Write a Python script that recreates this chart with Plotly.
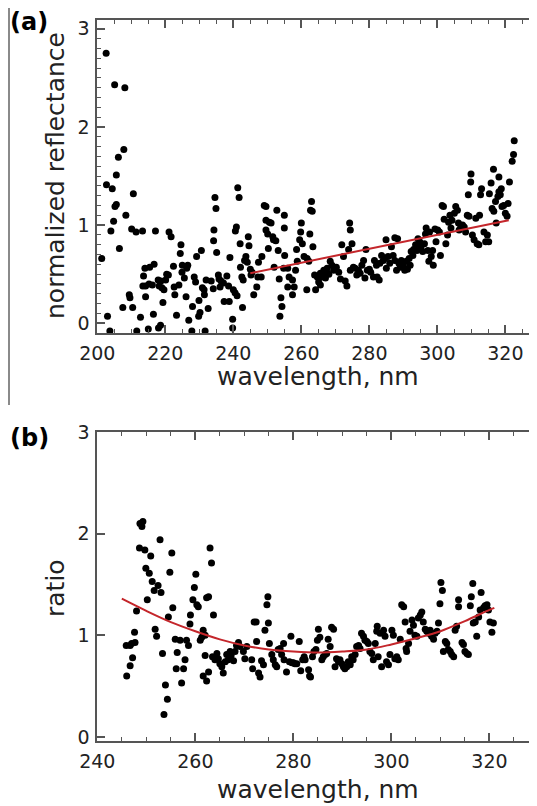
import plotly.graph_objects as go

# ---------------- Panel (a): normalized reflectance vs wavelength ----------------
a_wavelength = [
    202.6, 205.1, 208.1, 206.2, 207.8, 205.6,
    202.7, 204.4, 205.6, 205.2, 204.8, 204.0, 208.4, 210.6, 210.1, 211.4,
    213.3, 217.1, 221.1, 221.7, 206.5, 201.3, 203.0, 207.5, 209.4, 209.6,
    210.4, 212.7, 213.6, 214.0, 215.4, 216.7, 213.4, 214.2, 215.2, 216.2,
    214.2, 216.5, 217.9, 218.2, 218.7, 219.0, 219.3, 219.6, 220.1, 220.4,
    220.9, 222.4, 222.6, 222.8, 223.3, 224.0, 224.4, 224.6, 225.0, 224.9,
    225.6, 226.1, 226.3, 226.6, 226.9, 228.0, 228.5, 228.9, 229.2, 229.8,
    230.2, 229.9, 230.6, 230.9, 231.4, 231.5, 232.0, 232.6, 233.5, 234.1,
    234.6, 234.9, 234.2, 234.3, 235.1, 235.6, 235.8, 236.1, 236.4, 237.1,
    237.3, 238.8, 238.6, 238.1, 239.0, 240.0, 240.5, 240.6, 240.9, 241.1,
    241.3, 241.7, 242.0, 242.1, 242.5, 242.7, 242.9, 243.3, 243.7, 244.1,
    244.4, 244.6, 245.0, 245.2, 245.5, 246.0, 246.9, 247.2, 247.4,
    203.7, 211.6, 215.0, 218.0, 218.6, 227.8, 231.7, 239.8, 239.8,
    249.1, 249.6, 249.6, 250.6, 251.1, 249.6, 250.1, 251.6, 251.8, 252.5,
    252.8, 250.3, 252.0, 248.4, 248.2, 253.2, 253.5, 254.0, 254.3, 253.7,
    255.0, 255.0, 255.1, 254.8, 256.0, 256.4, 256.0, 257.4, 257.4, 257.9,
    258.3, 258.8, 258.6, 259.5, 259.8, 260.0, 260.3, 260.8, 261.6, 261.7,
    262.2, 262.5, 262.7, 263.0, 263.2, 263.4, 263.9, 264.2, 264.7, 265.1,
    265.6, 265.6, 266.1, 266.6, 267.1, 267.1, 267.6, 268.1, 268.5, 269.0,
    269.5, 270.3, 271.0, 271.5, 271.9, 272.4, 272.9, 273.4, 273.9, 274.2,
    274.4, 274.9, 274.4, 275.3, 275.8, 276.3, 276.8, 277.3, 277.8, 278.3,
    278.7, 279.0, 279.4, 280.0, 280.4, 281.2, 281.5, 282.1, 282.3, 282.9,
    283.1, 283.6, 284.1, 284.6, 284.9, 285.0, 285.5, 286.0, 286.5, 287.0,
    287.5, 287.5, 288.0, 288.3, 288.7, 289.1, 289.4, 290.0, 290.4, 290.9,
    291.2, 291.7, 292.0, 292.3, 292.8, 293.0, 293.6, 294.0, 294.3, 294.8,
    295.2, 295.7, 296.2, 296.5, 296.7, 297.2, 297.5, 297.7, 298.2, 298.6,
    298.8, 299.3, 299.6, 300.1, 300.6, 300.9, 301.4, 301.8, 302.0, 302.5,
    303.0, 303.3, 303.7, 304.0, 304.3, 305.0, 305.4, 305.9, 306.2, 306.4,
    306.9, 307.4, 307.9, 308.3, 308.8, 309.1, 309.3, 309.8, 310.3, 310.8,
    311.3, 311.7, 312.2, 312.4, 312.7, 313.0, 313.7, 314.2, 314.7, 315.1,
    315.3, 315.8, 316.1, 316.6, 317.1, 317.3, 317.8, 318.1, 318.5, 318.8,
    319.0, 319.5, 320.0, 320.5, 320.8, 321.2,
    322.6, 322.4, 322.0, 316.5, 309.9, 318.1,
]
a_reflectance = [
    2.75, 2.43, 2.40, 1.69, 1.77, 1.51,
    1.41, 1.37, 1.21, 1.19, 1.04, 0.94, 1.10, 1.32, 0.96, 0.93,
    0.94, 0.94, 0.93, 0.88, 0.76, 0.66, 0.07, 0.16, 0.29, 0.26,
    0.16, 0.06, 0.48, 0.56, 0.57, 0.60, 0.38, 0.38, 0.40, 0.39,
    0.27, 0.09, 0.44, 0.38, 0.43, 0.36, 0.21, 0.34, 0.44, 0.50,
    0.49, 0.58, 0.37, 0.29, 0.08, 0.39, 0.71, 0.80, 0.59, 0.52,
    0.46, 0.27, 0.56, 0.59, 0.03, 0.17, 0.47, 0.42, 0.68, 0.07,
    0.11, 0.23, 0.74, 0.36, 0.34, 0.29, 0.44, 0.15, 0.43, 0.35,
    1.28, 1.17, 0.84, 0.95, 0.72, 0.49, 0.45, 0.37, 0.43, 0.41,
    0.22, 0.22, 0.38, 0.48, 0.67, 0.34, 0.31, 0.94, 0.98, 0.28,
    1.38, 1.28, 0.81, 0.57, 0.47, 0.16, 0.44, 0.64, 0.68, 0.62,
    0.88, 0.79, 0.55, 0.49, 0.52, 0.29, 0.37, 0.47, 0.62,
    -0.08, -0.08, -0.06, -0.05, -0.02, -0.08, -0.08, -0.05, 0.04,
    1.20, 1.19, 1.05, 1.03, 1.02, 0.95, 0.91, 0.88, 0.85, 0.84,
    1.15, 0.76, 0.57, 0.68, 0.47, 0.74, 0.45, 0.26, 0.17, 0.07,
    1.10, 0.97, 0.69, 0.56, 0.56, 0.47, 0.37, 0.44, 0.29, 0.37,
    0.54, 0.63, 0.75, 0.85, 0.93, 1.02, 0.81, 0.68, 0.34, 0.66,
    0.63, 0.91, 1.15, 1.24, 1.14, 0.78, 0.49, 0.34, 0.47, 0.42,
    0.51, 0.39, 0.47, 0.54, 0.52, 0.46, 0.56, 0.50, 0.63, 0.59,
    0.54, 0.57, 0.52, 0.45, 0.80, 0.68, 0.43, 0.38, 0.75, 1.02,
    0.95, 0.81, 0.54, 0.57, 0.56, 0.49, 0.54, 0.51, 0.59, 0.64,
    0.46, 0.75, 0.54, 0.55, 0.52, 0.47, 0.64, 0.59, 0.47, 0.44,
    0.61, 0.69, 0.64, 0.66, 0.85, 0.56, 0.68, 0.61, 0.78, 0.69,
    0.64, 0.87, 0.54, 0.86, 0.61, 0.57, 0.64, 0.59, 0.54, 0.63,
    0.55, 0.66, 0.59, 0.73, 0.69, 0.75, 0.80, 0.74, 0.86, 0.83,
    0.78, 0.73, 0.81, 0.91, 0.97, 0.74, 0.63, 0.93, 0.68, 0.74,
    0.59, 0.96, 0.83, 0.95, 0.93, 0.69, 1.20, 1.19, 1.06, 0.81,
    0.90, 1.03, 1.10, 0.97, 1.05, 1.12, 1.19, 1.15, 1.02, 0.95,
    0.98, 1.00, 0.98, 0.93, 1.10, 1.31, 1.09, 1.44, 0.90, 0.85,
    1.07, 0.81, 0.80, 1.10, 1.31, 1.37, 0.93, 0.83, 0.90, 0.83,
    1.32, 1.43, 1.17, 1.14, 1.24, 1.02, 1.29, 1.34, 1.31, 1.37,
    1.19, 1.20, 1.12, 1.09, 1.22, 1.44,
    1.86, 1.72, 1.65, 1.57, 1.52, 1.49,
]
a_fit_wavelength = [245.0, 321.0]
a_fit_reflectance = [0.51, 1.05]

# ---------------- Panel (b): ratio vs wavelength ----------------
b_wavelength = [
    248.7, 249.3, 249.1, 252.8, 248.6, 249.7, 250.9, 255.2, 263.0, 263.3,
    249.9, 250.6, 254.8, 260.1, 251.2, 252.4, 251.6, 253.0, 259.8, 259.5,
    250.2, 274.8,
    310.1, 310.4, 316.6, 318.3, 316.3, 313.7,
    245.9, 246.7, 247.0, 247.7, 247.6, 248.0, 246.0, 246.7, 247.2, 251.8,
    252.1, 253.3, 253.9, 254.3, 253.6, 254.5, 255.4, 255.9, 256.3, 256.1,
    256.9, 257.2, 257.6, 257.9, 258.2, 258.6, 258.9, 259.0, 260.3, 260.6,
    261.0, 261.3, 261.6, 262.0, 261.6, 262.3, 262.7, 263.7, 262.0, 262.3,
    262.7, 263.5, 264.0, 264.4, 264.7, 265.0, 265.4, 265.7, 266.1, 266.4,
    266.7, 267.1, 267.3, 267.8, 268.1, 268.4, 268.8, 269.1, 269.8, 270.1,
    270.5, 271.5, 271.7, 272.0, 272.4, 272.5, 272.9, 273.2, 273.5, 273.9,
    274.2, 274.6, 274.9, 275.1,
    275.6, 275.9, 276.3, 276.6, 276.9, 277.3, 277.6, 278.0, 278.1, 278.6,
    279.2, 279.5, 279.7, 280.0, 280.3, 280.7, 281.2, 281.5, 281.9, 282.2,
    282.4, 283.1, 283.3, 283.5, 283.9, 284.2, 284.6, 284.9, 285.1, 285.4,
    285.8, 286.1, 286.5, 286.8, 287.1, 287.5, 287.8, 288.2, 288.5, 288.8,
    289.2, 289.5, 289.9, 290.2, 290.5, 290.9, 291.2, 291.6, 291.9, 292.2,
    292.6, 292.9, 293.3, 293.6, 293.9, 294.3, 294.6, 295.0, 295.3, 295.6,
    296.0, 296.3, 296.7, 297.0, 297.1, 297.3, 297.7, 298.0, 298.4, 298.7,
    299.0, 299.4, 299.7, 300.1, 300.4, 300.7, 301.1, 301.4, 301.8, 302.1,
    302.5, 302.8, 303.0, 303.1, 303.5, 303.8, 304.2, 304.5, 304.8, 305.2,
    305.5, 305.9, 306.2, 306.5, 306.9, 307.2, 307.6, 307.9, 308.2, 308.6,
    308.9, 309.3, 309.6, 309.9, 310.6, 311.0, 311.3, 311.6, 312.0, 312.3,
    312.7, 313.0, 313.3, 313.7, 314.4, 314.7, 315.0, 315.4, 315.7, 316.1,
    316.7, 317.1, 317.4, 317.8, 318.1, 318.8, 319.1, 319.5, 319.8, 320.1,
    320.5, 320.8,
]
b_ratio = [
    2.10, 2.12, 2.07, 1.94, 1.86, 1.84, 1.78, 1.81, 1.86, 1.71,
    1.66, 1.61, 1.62, 1.60, 1.53, 1.49, 1.44, 1.42, 1.47, 1.35,
    1.35, 1.38,
    1.52, 1.44, 1.51, 1.42, 1.38, 1.35,
    0.90, 0.90, 0.92, 0.93, 1.03, 1.24, 0.60, 0.70, 0.78, 1.06,
    0.99, 0.82, 0.51, 0.37, 0.22, 1.18, 1.27, 0.96, 0.83, 0.67,
    0.95, 0.53, 0.67, 0.76, 0.95, 0.90, 1.11, 1.20, 1.30, 1.28,
    0.95, 0.98, 1.05, 1.00, 0.60, 1.37, 1.38, 1.20, 0.80, 0.55,
    0.64, 0.79, 0.76, 0.82, 0.77, 0.72, 0.69, 0.63, 0.74, 0.81,
    0.76, 0.84, 0.80, 0.75, 0.84, 0.90, 0.93, 0.89, 0.84, 0.77,
    0.89, 0.76, 0.67, 1.13, 1.13, 0.94, 0.63, 0.59, 0.75, 0.71,
    1.05, 1.30, 1.12, 0.92,
    0.81, 0.76, 0.71, 0.69, 0.86, 0.87, 0.81, 0.92, 0.76, 0.64,
    0.74, 0.99, 0.73, 0.73, 0.72, 0.72, 0.94, 0.65, 0.76, 0.79,
    0.76, 0.66, 0.60, 0.59, 0.79, 0.84, 0.86, 0.95, 1.06, 0.98,
    0.76, 0.79, 0.81, 0.82, 0.96, 0.89, 1.08, 1.06, 0.69, 0.77,
    0.74, 0.76, 0.72, 0.69, 0.67, 0.69, 0.74, 0.71, 0.79, 0.76,
    0.81, 0.89, 0.90, 0.87, 1.02, 0.99, 0.95, 0.94, 0.92, 0.84,
    0.82, 0.76, 0.92, 1.04, 1.09, 0.79, 1.02, 0.69, 1.05, 0.99,
    0.74, 0.71, 0.81, 1.05, 1.00, 0.77, 0.79, 0.76, 0.96, 1.30,
    1.28, 1.13, 0.87, 0.84, 0.92, 1.04, 1.15, 1.10, 1.00, 0.99,
    1.17, 1.20, 1.23, 1.13, 1.06, 1.04, 1.02, 1.05, 0.99, 0.96,
    1.02, 1.04, 1.12, 1.31, 0.84, 0.94, 0.92, 0.86, 0.84, 0.81,
    0.79, 1.05, 1.09, 1.28, 0.93, 0.91, 0.84, 0.82, 0.81, 1.29,
    1.12, 1.13, 0.99, 1.18, 1.25, 1.27, 1.29, 1.30, 1.25, 1.13,
    1.03, 1.12,
]
b_fit_wavelength = [245, 250, 255, 260, 265, 270, 275, 280, 285, 290,
                    295, 300, 305, 310, 315, 320, 321]
b_fit_ratio = [1.36, 1.24, 1.13, 1.04, 0.96, 0.90, 0.86, 0.84, 0.83, 0.84,
               0.86, 0.91, 0.97, 1.04, 1.14, 1.25, 1.27]

# ---------------- Figure ----------------
# The page body has an 8 px margin, so the figure is sized and laid out
# in coordinates offset by 8 px from the window.
OFF = 8
W, H = 537 - OFF, 806 - OFF
FONT = "DejaVu Sans"
AXC = "#555555"
TXT = "#222222"
RED = "#c4262b"

fig = go.Figure()
marker = dict(color="black", size=7, line=dict(width=0))
fig.add_trace(go.Scatter(x=a_wavelength, y=a_reflectance, mode="markers",
                         marker=marker, xaxis="x", yaxis="y"))
fig.add_trace(go.Scatter(x=a_fit_wavelength, y=a_fit_reflectance, mode="lines",
                         line=dict(color=RED, width=2), xaxis="x", yaxis="y"))
fig.add_trace(go.Scatter(x=b_wavelength, y=b_ratio, mode="markers",
                         marker=marker, xaxis="x2", yaxis="y2"))
fig.add_trace(go.Scatter(x=b_fit_wavelength, y=b_fit_ratio, mode="lines",
                         line=dict(color=RED, width=2, shape="spline"),
                         xaxis="x2", yaxis="y2"))


def fx(px):
    return (px - OFF) / W


def fy(py):
    return 1 - (py - OFF) / H


def ax(**kw):
    base = dict(showline=True, linecolor=AXC, linewidth=2, mirror="ticks",
                ticks="inside", ticklen=8, tickwidth=1.5, tickcolor=AXC,
                showgrid=False, zeroline=False, automargin=False,
                tickfont=dict(family=FONT, size=19, color=TXT),
                ticklabelstandoff=2)
    base.update(kw)
    return base


minor_x = dict(dtick=5, ticks="inside", ticklen=4, tickwidth=1.2, tickcolor=AXC)

fig.update_layout(
    width=W, height=H,
    margin=dict(l=0, r=0, t=0, b=0),
    paper_bgcolor="white", plot_bgcolor="white",
    showlegend=False,
    xaxis=ax(domain=[fx(97.3), 1.0], range=[200, 329.3], anchor="y",
             tick0=200, dtick=20, minor=minor_x),
    yaxis=ax(domain=[fy(333), fy(20)], range=[-0.10, 3.09], anchor="x",
             tick0=0, dtick=1,
             minor=dict(dtick=0.1, ticks="inside", ticklen=4, tickwidth=1.2, tickcolor=AXC)),
    xaxis2=ax(domain=[fx(97.3), 1.0], range=[240, 329.7], anchor="y2",
              tick0=240, dtick=20, minor=minor_x),
    yaxis2=ax(domain=[fy(741), fy(432)], range=[-0.04, 3.0], anchor="x2",
              tick0=0, dtick=1),
)

title_font = dict(family=FONT, size=25, color=TXT)
label_font = dict(family=FONT, size=24, color="black")


def ann(text, px, py, font, angle=0):
    return dict(text=text, x=fx(px), y=fy(py), xref="paper", yref="paper",
                xanchor="center", yanchor="middle", showarrow=False,
                textangle=angle, font=font)


fig.update_layout(annotations=[
    ann("wavelength, nm", 318, 376, title_font),
    ann("normalized reflectance", 55, 176, title_font, -90),
    ann("wavelength, nm", 318, 789, title_font),
    ann("ratio", 55, 588, title_font, -90),
    ann("<b>(a)</b>", 29, 22, label_font),
    ann("<b>(b)</b>", 29, 438, label_font),
])

fig.add_shape(type="line", xref="paper", yref="paper",
              x0=1 / W, x1=1 / W, y0=1.0, y1=fy(405),
              line=dict(color="#8a8a8a", width=2), layer="below")

fig.write_html("out.html")
